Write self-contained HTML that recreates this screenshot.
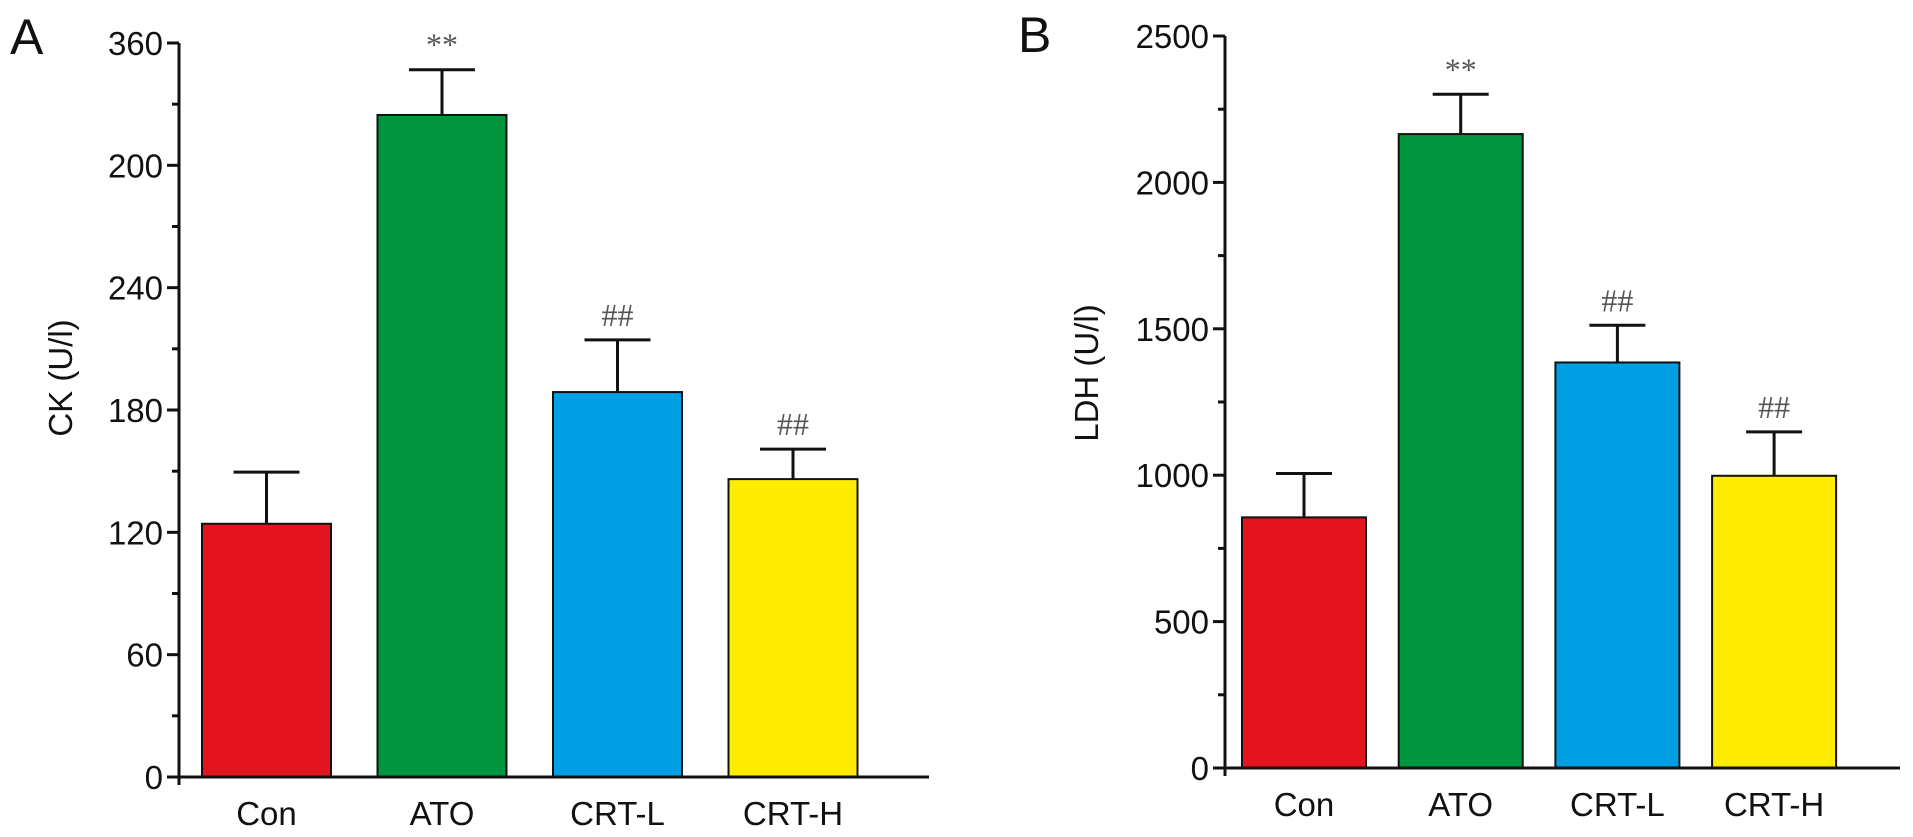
<!DOCTYPE html>
<html><head><meta charset="utf-8"><style>
html,body{margin:0;padding:0;background:#fff;}
svg{display:block;font-family:"Liberation Sans",Arial,sans-serif;}
</style></head><body>
<svg id="chart" width="1913" height="837" viewBox="0 0 1913 837"></svg>
<script>
const categories = ["Con","ATO","CRT-L","CRT-H"];
const colors = ["#e3141d","#009640","#009fe3","#ffec00"];
const ckValues = [124.2,324.7,188.8,146.1];
const ckErrors = [149.5,346.9,214.4,160.8];
const ckTickValues = [0,60,120,180,240,300,360];
const ckTickLabels = ["0","60","120","180","240","200","360"];
const ckMarks = ["","**","##","##"];
const ldhValues = [856,2165,1385,998];
const ldhErrors = [1006,2301,1512,1148];
const ldhTickValues = [0,500,1000,1500,2000,2500];
const ldhTickLabels = ["0","500","1000","1500","2000","2500"];
const ldhMarks = ["","**","##","##"];

const svg = document.getElementById('chart');
const NS = "http://www.w3.org/2000/svg";
function mk(tag, attrs, parent){const e=document.createElementNS(NS,tag);for(const k in attrs)e.setAttribute(k,attrs[k]);(parent||svg).appendChild(e);return e;}

function panel(cfg){
  const g = mk('g',{});
  
  
  const y = v => cfg.y0 - v / cfg.max * (cfg.y0 - cfg.yTop);
  const x = i => cfg.barX0 + i * cfg.step;
  const L = mk('text',{x:cfg.letterX,y:cfg.letterY,'font-size':50,fill:'#111'},g); L.textContent=cfg.letter;
  
  
  cfg.values.forEach((v,i)=>{
    const bx = x(i);
    const r = mk('rect',{x:bx,y:y(v),width:cfg.barW,height:cfg.y0-y(v),fill:colors[i],stroke:'#111','stroke-width':2},g);
    
    
    const cx = bx + cfg.barW/2;
    const e = mk('path',{d:`M${cx} ${y(v)} V${y(cfg.errors[i])} M${cx-cfg.capW/2} ${y(cfg.errors[i])} H${cx+cfg.capW/2}`,stroke:'#111','stroke-width':3,fill:'none'},g);
    
    
    if(cfg.marks[i]){
      const m = mk('text',{x:cx,y:y(cfg.errors[i])-14,'text-anchor':'middle','font-size':32,fill:'#555','font-family':'"Liberation Serif",serif'},g);
      m.textContent = cfg.marks[i];
      
      
    }
    const t = mk('text',{x:cx,y:cfg.y0+48,'text-anchor':'middle','font-size':33,fill:'#111'},g);
    t.textContent = categories[i];
    
    
  });
  const ax = mk('path',{d:`M${cfg.axisX} ${cfg.yTop} V${cfg.y0+8} M${cfg.axisX-10} ${cfg.y0} H${cfg.axisEnd}`,stroke:'#111','stroke-width':3,fill:'none'},g);
  
  
  cfg.ticks.forEach((tv,i)=>{
    mk('line',{x1:cfg.axisX-12,x2:cfg.axisX,y1:y(tv),y2:y(tv),stroke:'#111','stroke-width':3},g);
    if(i<cfg.ticks.length-1){
      const mv=(tv+cfg.ticks[i+1])/2;
      mk('line',{x1:cfg.axisX-7,x2:cfg.axisX,y1:y(mv),y2:y(mv),stroke:'#111','stroke-width':3},g);
    }
    const tl = mk('text',{x:cfg.axisX-16,y:y(tv)+12,'text-anchor':'end','font-size':33,fill:'#111'},g);
    tl.textContent = cfg.tickLabels[i];
    
    
  });
  const yt = mk('text',{x:cfg.titleX,y:cfg.titleY,'text-anchor':'middle','font-size':33,fill:'#111',transform:`rotate(-90 ${cfg.titleX} ${cfg.titleY})`},g);
  yt.textContent = cfg.title;
  
  
}

panel({name:'ck-panel',letter:'A',letterX:10,letterY:54,values:ckValues,errors:ckErrors,marks:ckMarks,ticks:ckTickValues,tickLabels:ckTickLabels,max:360,
  y0:777,yTop:43,axisX:179,axisEnd:929,barX0:202,step:175.5,barW:129,capW:66,title:'CK (U/l)',titleX:72,titleY:378});
panel({name:'ldh-panel',letter:'B',letterX:1018,letterY:52,values:ldhValues,errors:ldhErrors,marks:ldhMarks,ticks:ldhTickValues,tickLabels:ldhTickLabels,max:2500,
  y0:768,yTop:36,axisX:1225,axisEnd:1900,barX0:1242,step:156.7,barW:124,capW:56,title:'LDH (U/l)',titleX:1098,titleY:373});
</script>
</body></html>
